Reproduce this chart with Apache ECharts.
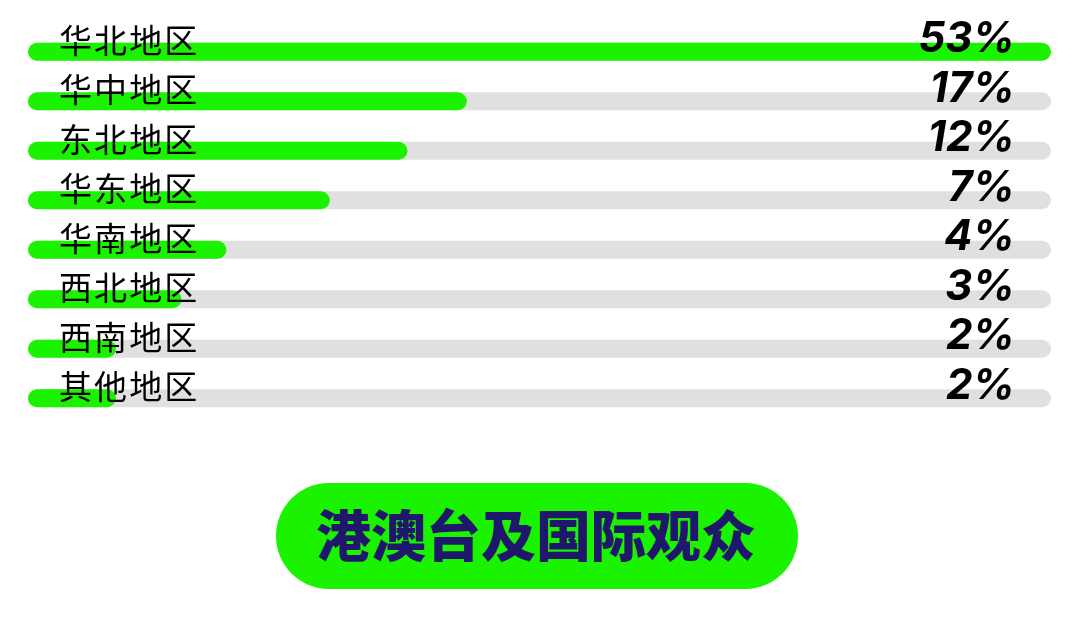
<!DOCTYPE html>
<html>
<head>
<meta charset="utf-8">
<script src="https://cdn.jsdelivr.net/npm/echarts@6/dist/echarts.min.js"></script>
<style>
html,body{margin:0;padding:0;background:#fff;}
#chart{width:1080px;height:627px;}
</style>
</head>
<body>
<div id="chart"></div>
<script>
// 地区名称
var regions = ['华北地区','华中地区','东北地区','华东地区','华南地区','西北地区','西南地区','其他地区'];
// 右侧百分比文字
var percents = ['53%','17%','12%','7%','4%','3%','2%','2%'];
// 绿色条长度(按图上读出, 满格为100)
var barLengths = [100, 42.9, 37.1, 29.5, 19.4, 15.0, 8.6, 8.6];
// 灰色底条(满格)
var trackLengths = [100, 100, 100, 100, 100, 100, 100, 100];
var buttonText = '港澳台及国际观众';

var green = '#1af200';
var myChart = echarts.init(document.getElementById('chart'));

var option = {
	backgroundColor: '#ffffff',
	animation: false,
	grid: {left: 28, right: 29, top: 27, bottom: 204},
	xAxis: {type: 'value', min: 0, max: 100, show: false},
	yAxis: {
		type: 'category',
		data: regions,
		inverse: true,
		show: false
	},
	series: [
		{
			name: 'track',
			type: 'bar',
			data: trackLengths,
			barWidth: 18,
			barGap: '-100%',
			z: 1,
			itemStyle: {color: '#e0e0e0', borderRadius: 9}
		},
		{
			name: 'value',
			type: 'bar',
			data: barLengths,
			barWidth: 18,
			barGap: '-100%',
			z: 2,
			itemStyle: {color: green, borderRadius: 9},
			label: {
				show: true,
				position: [31, -2.5],
				align: 'left',
				verticalAlign: 'middle',
				fontFamily: 'Noto Sans CJK SC',
				fontSize: 33,
				color: '#000',
				formatter: function(p){ return regions[p.dataIndex].split('').join('\u200a'); }
			}
		},
		{
			// 透明层, 只用来放右侧百分比
			name: 'percent',
			type: 'bar',
			data: trackLengths,
			barWidth: 18,
			barGap: '-100%',
			z: 3,
			silent: true,
			itemStyle: {color: 'rgba(0,0,0,0)'},
			label: {
				show: true,
				position: [987, -3],
				align: 'right',
				verticalAlign: 'middle',
				fontFamily: 'Inter',
				fontStyle: 'italic',
				fontWeight: 'bold',
				fontSize: 42,
				color: '#000',
				formatter: function(p){ return percents[p.dataIndex]; }
			}
		}
	],
	graphic: [
		{
			type: 'rect',
			shape: {x: 276, y: 483, width: 522, height: 106, r: 53},
			style: {fill: green},
			z: 10
		},
		{
			type: 'text',
			x: 536,
			y: 535,
			style: {
				text: buttonText,
				fill: '#1f176b',
				font: '900 55px "Noto Sans CJK SC"',
				align: 'center',
				verticalAlign: 'middle'
			},
			z: 11
		}
	]
};
myChart.setOption(option);
</script>
</body>
</html>
